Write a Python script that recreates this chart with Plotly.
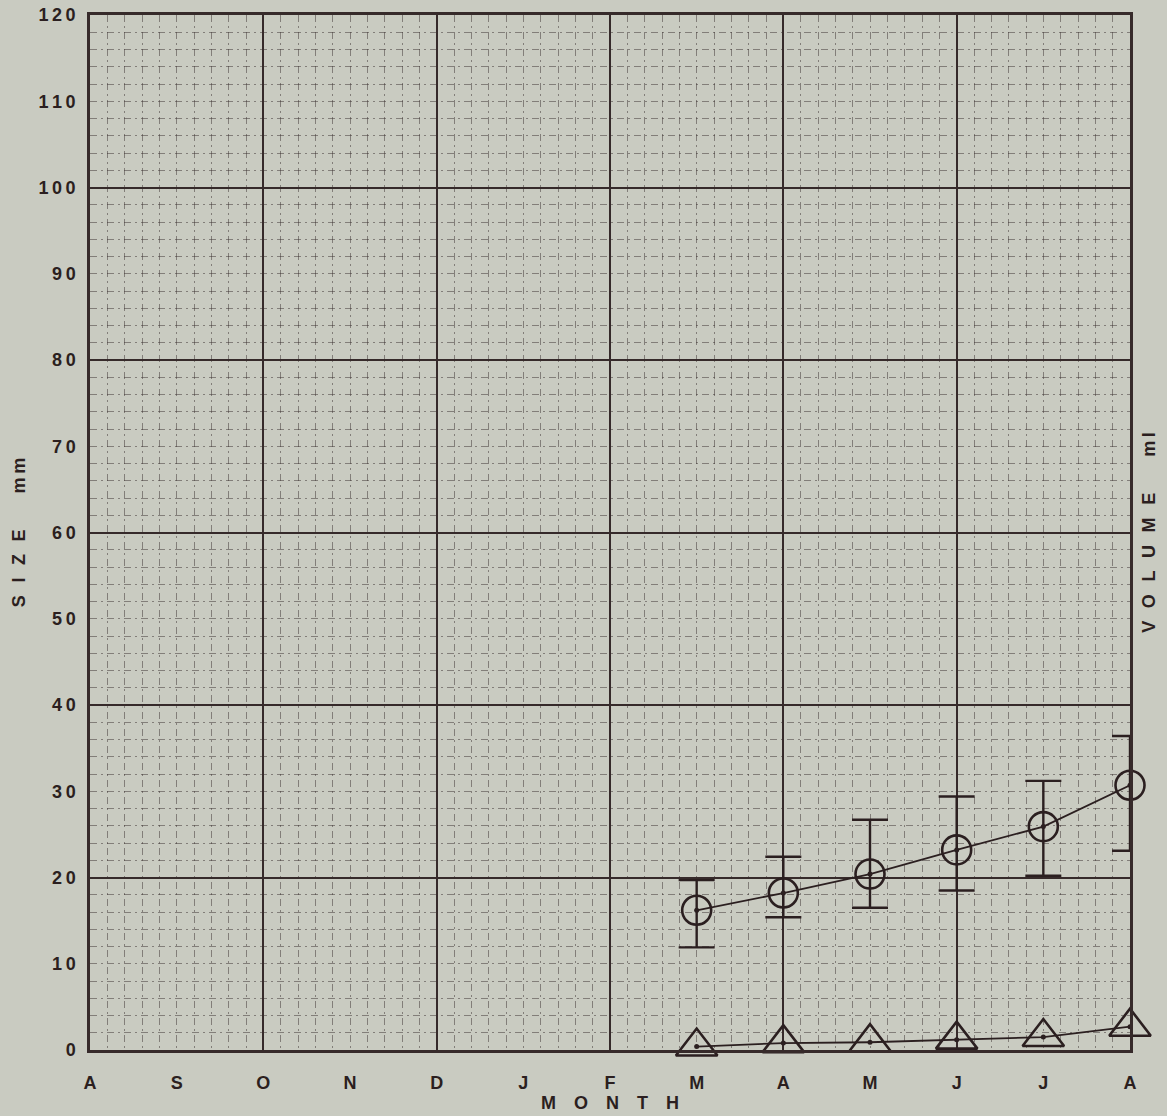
import plotly.graph_objects as go

# Month axis (August to August)
months = ["A", "S", "O", "N", "D", "J", "F", "M", "A", "M", "J", "J", "A"]
month_pos = list(range(13))

# Sampled months (March .. August)
obs_pos = [7, 8, 9, 10, 11, 12]

# Size (mm): mean, upper and lower limits
size_mean = [16.2, 18.2, 20.4, 23.2, 25.9, 30.7]
size_hi = [19.7, 22.4, 26.7, 29.4, 31.2, 36.4]
size_lo = [11.9, 15.4, 16.5, 18.5, 20.2, 23.1]

# Volume (ml)
volume = [0.4, 0.8, 0.9, 1.2, 1.5, 2.7]

# Y tick labels
y_ticks = list(range(0, 121, 10))
y_ticktext = ["\u2009".join(str(v)) for v in y_ticks]

BG = "#c9cbc1"
INK = "#2b1f20"
MAJOR = "#362a2a"
MINOR = "rgba(60,50,50,0.5)"
FONT = "Liberation Sans"

err_plus = [h - m for h, m in zip(size_hi, size_mean)]
err_minus = [m - l for m, l in zip(size_mean, size_lo)]

fig = go.Figure()

fig.add_trace(go.Scatter(
    x=obs_pos, y=size_mean, mode="lines+markers",
    line=dict(color=INK, width=1.8),
    marker=dict(symbol="circle-open", size=29, color=INK,
                line=dict(color=INK, width=2.6)),
    error_y=dict(type="data", array=err_plus, arrayminus=err_minus,
                 color=INK, thickness=2.4, width=18, symmetric=False),
    cliponaxis=False, showlegend=False,
    xaxis="x", yaxis="y",
))
fig.add_trace(go.Scatter(
    x=obs_pos, y=size_mean, mode="markers",
    marker=dict(symbol="circle", size=5, color=INK),
    cliponaxis=False, showlegend=False, hoverinfo="skip",
    xaxis="x", yaxis="y",
))

fig.add_trace(go.Scatter(
    x=obs_pos, y=volume, mode="lines+markers",
    line=dict(color=INK, width=1.8),
    marker=dict(symbol="triangle-up-open", size=36, color=INK,
                line=dict(color=INK, width=2.6)),
    cliponaxis=False, showlegend=False,
    xaxis="x2", yaxis="y2",
))
fig.add_trace(go.Scatter(
    x=obs_pos, y=volume, mode="markers",
    marker=dict(symbol="circle", size=5, color=INK),
    cliponaxis=False, showlegend=False, hoverinfo="skip",
    xaxis="x2", yaxis="y2",
))

tickfont = dict(family=FONT, size=18, color=INK, weight="bold")
titlefont = dict(family=FONT, size=18, color=INK, weight="bold")

SP = "\u2002\u2009"

fig.update_layout(
    width=1167, height=1116,
    paper_bgcolor=BG, plot_bgcolor=BG,
    margin=dict(l=90, r=37, t=15, b=66, autoexpand=False),
    xaxis=dict(
        range=[0, 12], tickvals=month_pos, ticktext=months,
        showgrid=False, zeroline=False, ticks="", ticklabelstandoff=15,
        tickfont=tickfont,
        showline=True, mirror=True, linecolor=MAJOR, linewidth=2.5,
        minor=dict(dtick=0.2, tick0=0, showgrid=True, gridcolor=MINOR,
                   gridwidth=1, griddash="7px,4px,2px,4px", ticks=""),
        title=dict(text="M\u2003O\u2003N\u2003T\u2003H", font=titlefont, standoff=3),
        automargin=False,
    ),
    xaxis2=dict(
        overlaying="x", range=[0, 12], dtick=2, tick0=0,
        showgrid=True, gridcolor=MAJOR, gridwidth=2,
        showticklabels=False, ticks="", zeroline=False, showline=False,
    ),
    yaxis=dict(
        range=[0, 120], tickvals=y_ticks, ticktext=y_ticktext,
        showgrid=False, zeroline=False, ticks="", ticklabelstandoff=8,
        tickfont=tickfont,
        showline=True, mirror=True, linecolor=MAJOR, linewidth=2.5,
        minor=dict(dtick=2, tick0=0, showgrid=True, gridcolor=MINOR,
                   gridwidth=1, griddash="7px,4px,2px,4px", ticks=""),
        title=dict(text=SP.join("SIZE") + "\u2003\u2003m\u2009m", font=titlefont, standoff=9),
        automargin=False,
    ),
    yaxis2=dict(
        overlaying="y", side="right", range=[0, 120], dtick=20, tick0=0,
        showgrid=True, gridcolor=MAJOR, gridwidth=2,
        showticklabels=False, ticks="", zeroline=False, showline=False,
        title=dict(text=SP.join("VOLUME") + "\u2003\u2003m\u2009l", font=titlefont, standoff=12),
        automargin=False,
    ),
)

fig.write_html(
    "out.html",
    config={"displayModeBar": False},
    post_script="document.body.style.margin='0px';document.body.style.background='#c9cbc1';",
)
